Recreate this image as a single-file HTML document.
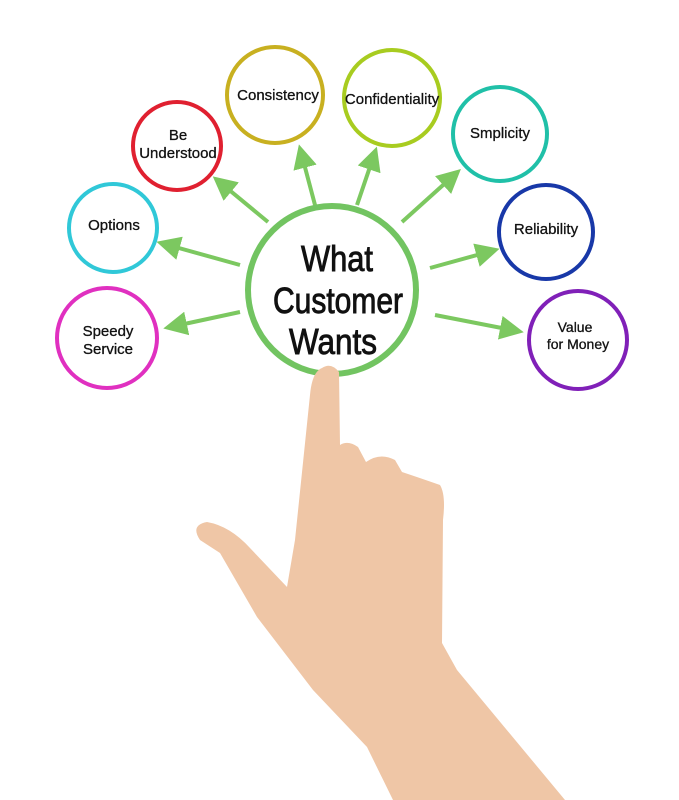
<!DOCTYPE html>
<html><head><style>
body{margin:0;background:#fff;}
svg{display:block}
text{font-family:"Liberation Sans",sans-serif;text-anchor:middle;fill:#111;}
</style></head><body>
<svg width="679" height="800" viewBox="0 0 679 800">
<defs><marker id="a" markerWidth="6" markerHeight="6" refX="3" refY="3" orient="auto" markerUnits="strokeWidth"><path d="M0,0 L6,3 L0,6 z" fill="#7cc860"/></marker></defs>
<g stroke="#7cc860" stroke-width="4" fill="none" marker-end="url(#a)">
<line x1="240" y1="312" x2="175" y2="326"/>
<line x1="240" y1="265" x2="168" y2="245"/>
<line x1="268" y1="222" x2="222" y2="184"/>
<line x1="315" y1="205" x2="302" y2="156"/>
<line x1="357" y1="205" x2="373" y2="158"/>
<line x1="402" y1="222" x2="452" y2="177"/>
<line x1="430" y1="268" x2="488" y2="252"/>
<line x1="435" y1="315" x2="512" y2="330"/>
</g>
<g fill="none" stroke-width="4">
<circle cx="332" cy="290" r="84" stroke="#72c461" stroke-width="6"/>
<circle cx="275" cy="95" r="48" stroke="#c8b020"/>
<circle cx="392" cy="98" r="48" stroke="#a8cc20"/>
<circle cx="177" cy="146" r="44" stroke="#e02030"/>
<circle cx="500" cy="134" r="47" stroke="#20c0a8"/>
<circle cx="113" cy="228" r="44" stroke="#30c8d8"/>
<circle cx="546" cy="232" r="47" stroke="#1838a8"/>
<circle cx="107" cy="338" r="50" stroke="#e030c0"/>
<circle cx="578" cy="340" r="49" stroke="#8020b8"/>
</g>
<g stroke="#111" stroke-width="0.9">
<text x="337" y="271" font-size="36" textLength="72" lengthAdjust="spacingAndGlyphs">What</text>
<text x="338" y="313" font-size="36" textLength="130" lengthAdjust="spacingAndGlyphs">Customer</text>
<text x="333" y="354" font-size="36" textLength="88" lengthAdjust="spacingAndGlyphs">Wants</text>
</g>
<g font-size="15" stroke="#111" stroke-width="0.3">
<text x="278" y="100">Consistency</text>
<text x="392" y="104">Confidentiality</text>
<text x="178" y="140">Be</text><text x="178" y="158">Understood</text>
<text x="500" y="138">Smplicity</text>
<text x="114" y="230">Options</text>
<text x="546" y="234">Reliability</text>
<text x="108" y="336">Speedy</text><text x="108" y="354">Service</text>
<text x="575" y="332" font-size="14">Value</text><text x="578" y="349" font-size="14">for Money</text>
</g>
<path d="M322,368 Q331,362 339,372 L340,445 Q348,440 358,447 L366,462 Q380,452 395,460 L402,472 Q420,478 440,485 Q446,495 443,520 L442,643 L457,670 L565,800 L393,800 L367,747 L313,690 L257,617 L220,553 L200,540 Q190,525 207,522 Q230,526 250,548 L287,587 L295,540 L310,395 Q312,372 322,368 Z" fill="#efc6a6"/>
</svg>
</body></html>
